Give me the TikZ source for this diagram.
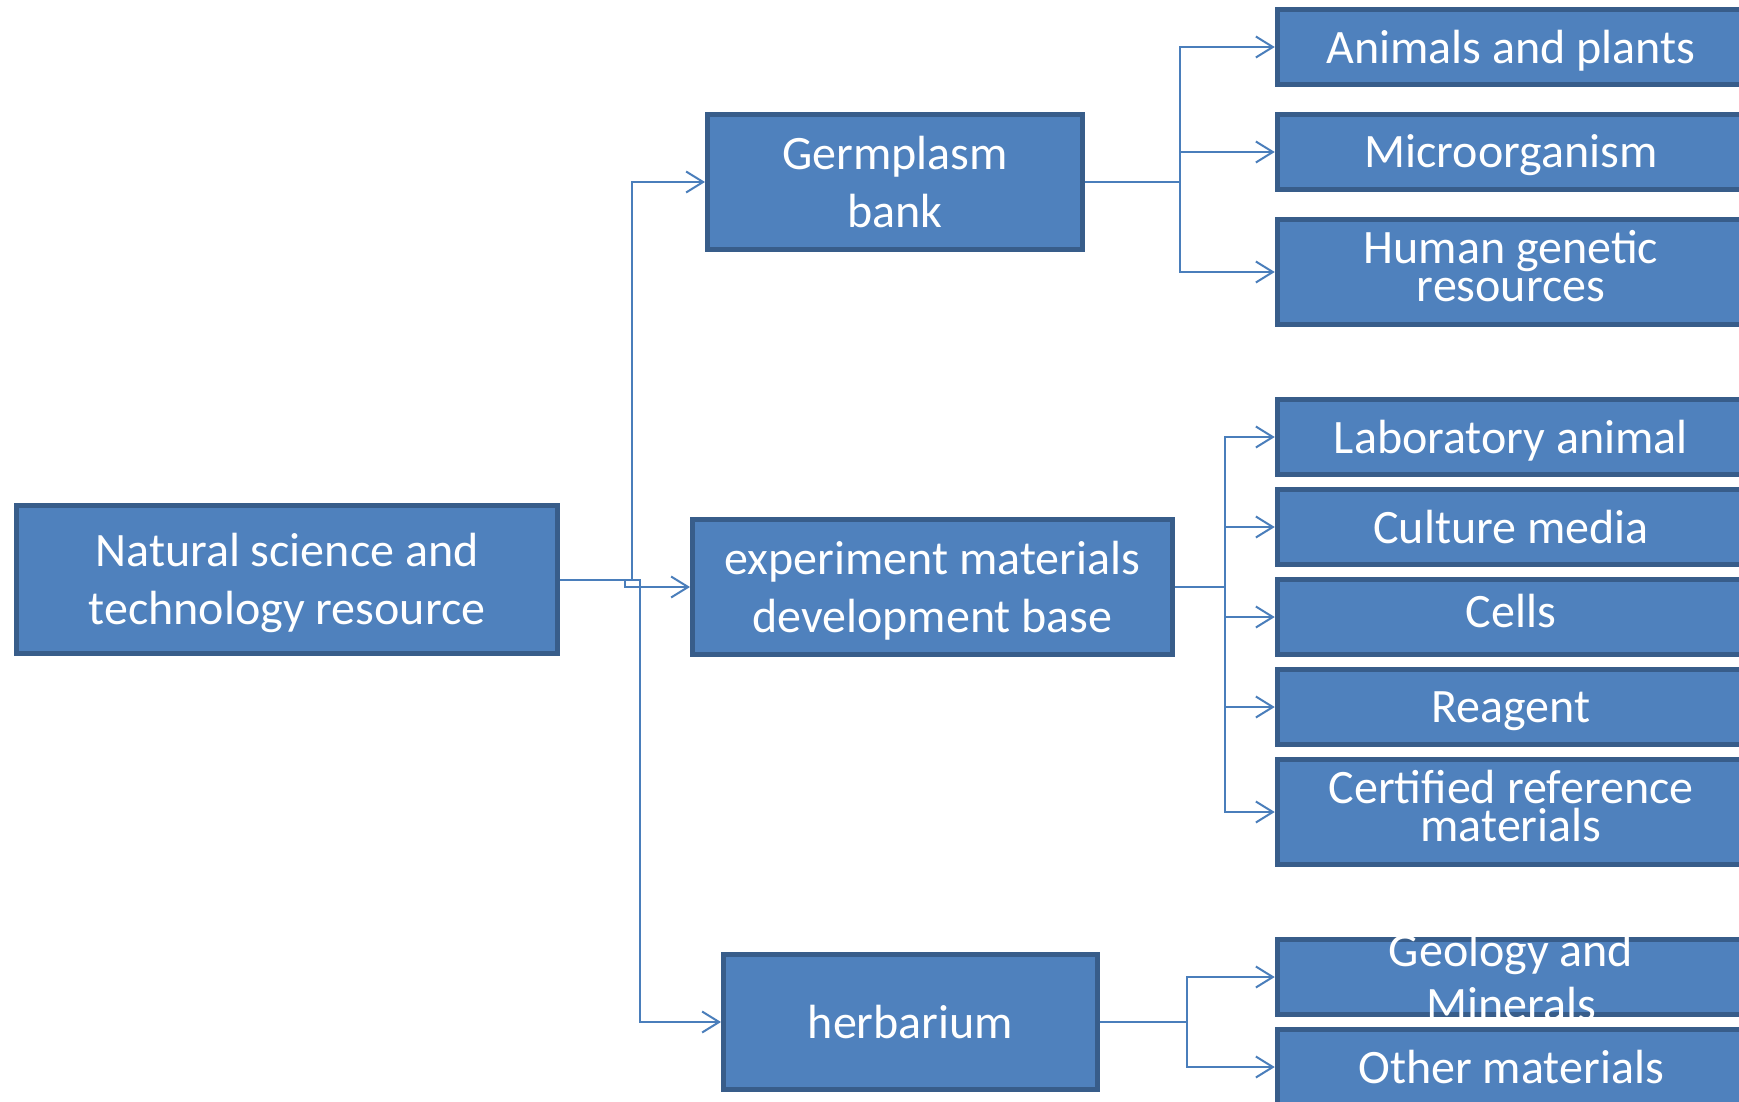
\documentclass[tikz,border=0pt]{standalone}
\usepackage{fontspec}
\setmainfont{Carlito}
\usetikzlibrary{arrows.meta}
\definecolor{boxfill}{HTML}{4F81BD}
\definecolor{boxline}{HTML}{385D8A}
\definecolor{linkcol}{HTML}{4A7EBB}
% struts that fix where each line of text sits in its box
\newcommand\boxstrut{\rule[-7pt]{0pt}{47pt}}
\newcommand\headstrut{\rule{0pt}{40pt}}
\newcommand\tailstrut{\rule[-19pt]{0pt}{19pt}}
\newcommand\lowstrut{\rule[-13pt]{0pt}{36pt}}
\tikzset{
  box/.style={draw=boxline, fill=boxfill, line width=5pt, text=white,
    align=center, inner sep=0pt, font=\fontsize{48}{58}\selectfont},
  leaf/.style={box, minimum width=467.5pt, minimum height=75pt},
  tallleaf/.style={leaf, minimum height=105pt, font=\fontsize{48}{38}\selectfont},
  link/.style={draw=linkcol, line width=2pt,
    -{Straight Barb[length=17pt,width=21pt]}},
  plaintext/.style={text=white, align=center, inner sep=0pt,
    font=\fontsize{48}{54}\selectfont},
}
\begin{document}
\begin{tikzpicture}[x=1pt, y=-1pt]
\useasboundingbox (0,0) rectangle (1739,1101);

% main branches
\node[box, minimum width=541pt, minimum height=148pt] (root) at (287,579.5)
  {\boxstrut Natural science and\\\boxstrut technology resource};
\node[box, minimum width=375pt, minimum height=135pt] (germ) at (895,182)
  {\boxstrut Germplasm\\\boxstrut bank};
\node[box, minimum width=480pt, minimum height=135pt] (expt) at (932.5,587)
  {\boxstrut experiment materials\\\boxstrut development base};
\node[box, minimum width=374pt, minimum height=135pt] (herb) at (910.5,1022)
  {\boxstrut herbarium};

% leaves of the germplasm bank
\node[leaf] (animals) at (1511,47) {\boxstrut Animals and plants};
\node[leaf] (micro) at (1511,152) {\boxstrut Microorganism};
\node[tallleaf] (human) at (1511,272)
  {\headstrut Human genetic\\\tailstrut resources};

% leaves of the development base
\node[leaf] (lab) at (1511,437) {\boxstrut Laboratory animal};
\node[leaf] (culture) at (1511,527) {\boxstrut Culture media};
\node[leaf] (cells) at (1511,617) {\lowstrut Cells};
\node[leaf] (reagent) at (1511,707) {\boxstrut Reagent};
\node[tallleaf] (crm) at (1511,812)
  {\headstrut Certified reference\\\tailstrut materials};

% leaves of the herbarium
\node[leaf] (geo) at (1511,977) {};
\node[plaintext] (geotext) at (geo.center)
  {\boxstrut Geology and\\\boxstrut Minerals};
\node[leaf] (other) at (1511,1067) {\boxstrut Other materials};

% connectors from the root
\draw[link] (root.east) -- ++(72,0) |- (germ.west);
\draw[link] (root.east) -- ++(65,0) |- (expt.west);
\draw[link] (root.east) -- ++(80,0) |- (herb.west);

% connectors to the leaves
\foreach \leafname in {animals,micro,human}
  \draw[link] (germ.east) -- ++(95,0) |- (\leafname.west);
\foreach \leafname in {lab,culture,cells,reagent,crm}
  \draw[link] (expt.east) -- ++(50,0) |- (\leafname.west);
\foreach \leafname in {geo,other}
  \draw[link] (herb.east) -- ++(87,0) |- (\leafname.west);
\end{tikzpicture}
\end{document}
